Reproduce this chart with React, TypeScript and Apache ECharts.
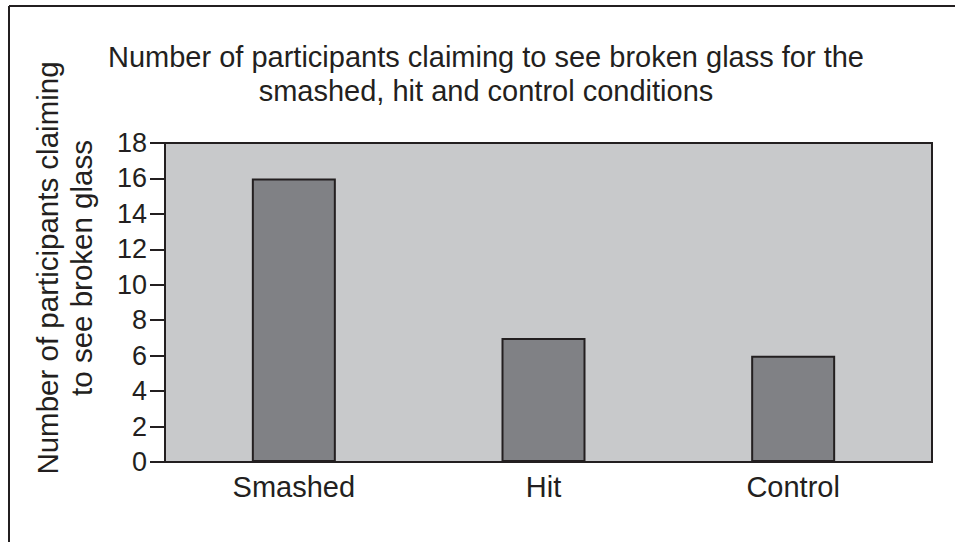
import React, { useEffect, useRef } from "react";
import * as echarts from "echarts";

const categories = ["Smashed", "Hit", "Control"];
const values = [16, 7, 6];
const yMin = 0;
const yMax = 18;
const yInterval = 2;
const titleText = "Number of participants claiming to see broken glass for the\nsmashed, hit and control conditions";
const yAxisTitle = "Number of participants claiming\nto see broken glass";

const INK = "#231f20";
const FONT = "'Liberation Sans', Arial, Helvetica, sans-serif";

export default function App() {
  const ref = useRef<HTMLDivElement>(null);
  useEffect(() => {
    if (!ref.current) return;
    const chart = echarts.init(ref.current, null, { renderer: "svg" });
    chart.setOption({
      animation: false,
      backgroundColor: "#ffffff",
      textStyle: { fontFamily: FONT, color: INK },
      title: {
        text: titleText,
        left: 481,
        top: 35,
        textAlign: "center",
        textStyle: {
          fontFamily: FONT,
          fontSize: 29,
          fontWeight: "normal",
          color: INK,
          lineHeight: 34,
        },
      },
      grid: [
        {
          left: 165,
          top: 143,
          right: 23,
          bottom: 80,
          show: true,
          backgroundColor: "#c8c9cb",
          borderColor: INK,
          borderWidth: 2,
        },
        {
          left: 169,
          top: 143,
          right: 37,
          bottom: 80,
          show: false,
        },
      ],
      xAxis: [
        {
          type: "category",
          gridIndex: 0,
          data: categories,
          show: false,
        },
        {
          type: "category",
          gridIndex: 1,
          data: categories,
          axisLine: { show: false },
          axisTick: { show: false },
          axisLabel: { fontSize: 29, color: INK, fontFamily: FONT, margin: 10 },
          splitLine: { show: false },
        },
      ],
      yAxis: [
        {
          type: "value",
          gridIndex: 0,
          min: yMin,
          max: yMax,
          interval: yInterval,
          axisLine: { show: true, lineStyle: { color: INK, width: 2 } },
          axisTick: { show: true, length: 15, lineStyle: { color: INK, width: 2 } },
          axisLabel: { fontSize: 27, color: INK, fontFamily: FONT, margin: 18 },
          splitLine: { show: false },
        },
        {
          type: "value",
          gridIndex: 1,
          min: yMin,
          max: yMax,
          interval: yInterval,
          show: false,
          splitLine: { show: false },
        },
      ],
      series: [
        {
          type: "bar",
          xAxisIndex: 1,
          yAxisIndex: 1,
          data: values,
          barWidth: 84,
          itemStyle: {
            color: "#808185",
            borderColor: INK,
            borderWidth: 2,
          },
        },
      ],
      graphic: [
        {
          type: "line",
          shape: { x1: 9, y1: 6, x2: 960, y2: 6 },
          style: { stroke: INK, lineWidth: 2 },
        },
        {
          type: "line",
          shape: { x1: 9, y1: 6, x2: 9, y2: 550 },
          style: { stroke: INK, lineWidth: 2 },
        },
        {
          type: "text",
          x: 64,
          y: 268,
          rotation: Math.PI / 2,
          style: {
            text: yAxisTitle,
            fontSize: 29.5,
            fontFamily: FONT,
            fill: INK,
            align: "center",
            verticalAlign: "middle",
            lineHeight: 34,
          },
        },
      ],
    });
    return () => chart.dispose();
  }, []);
  return (
    <div
      ref={ref}
      style={{ position: "fixed", left: 0, top: 0, width: 955, height: 542 }}
    />
  );
}
